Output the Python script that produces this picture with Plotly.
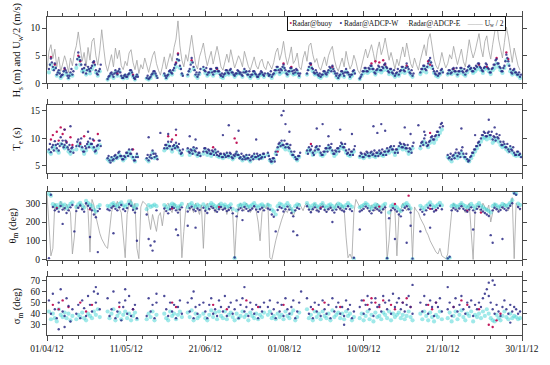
import plotly.graph_objects as go

# ---------------- data ----------------
n_days = 243  # 01/04/12 .. 30/11/12
tick_labels = ["01/04/12", "11/05/12", "21/06/12", "01/08/12", "10/09/12", "21/10/12", "30/11/12"]
radar_segments = [(1, 13), (15, 27), (31, 46), (51, 56), (60, 69), (72, 78), (80, 111),
                  (113, 129), (133, 157), (160, 187), (191, 202), (205, 242)]

# Panel 1: Hs (m) and Uw/2 (m/s)
uw_half = [2.5, 5.8, 7.0, 4.5, 6.2, 3.0, 4.8, 2.2, 3.5, 5.0,
           3.8, 2.0, 4.6, 3.2, 5.5, 6.8, 9.3, 7.0, 4.0, 5.6,
           3.0, 6.5, 4.2, 7.6, 8.2, 5.0, 3.3, 6.0, 9.7, 6.4,
           3.5, 2.2, 4.0, 5.2, 3.0, 6.4, 4.5, 6.0, 3.2, 2.5,
           4.0, 3.2, 5.5, 6.1, 3.8, 2.5, 4.2, 1.8, 3.4, 2.6,
           4.6, 3.0, 2.0, 3.5, 5.0, 5.8, 3.6, 2.4, 1.5, 3.0,
           4.8, 2.6, 3.8, 5.4, 4.0, 6.5, 8.0, 11.3, 6.8, 4.2,
           3.0, 5.2, 4.0, 6.6, 8.7, 6.0, 3.5, 2.6, 4.8, 5.9,
           7.3, 5.0, 3.2, 4.6, 5.8, 3.5, 4.9, 6.7, 5.0, 3.0,
           2.4, 4.0, 5.3, 3.8, 6.1, 4.4, 2.8, 3.9, 5.0, 4.2,
           3.0, 5.8, 4.6, 3.1, 2.4, 3.6, 4.8, 3.2, 2.6, 3.9,
           4.4, 3.0, 2.5, 4.0, 3.3, 2.6, 3.8, 5.6, 6.4, 4.2,
           5.5, 7.6, 5.0, 3.4, 4.8, 6.6, 3.6, 4.2, 5.5, 3.0,
           2.5, 4.6, 5.8, 4.0, 6.8, 7.3, 5.2, 3.8, 4.5, 3.0,
           2.4, 3.6, 4.8, 3.2, 5.0, 6.0, 6.7, 4.4, 3.0, 2.2,
           3.5, 4.6, 3.0, 5.8, 4.0, 2.6, 3.4, 5.1, 4.0, 2.4,
           1.8, 3.2, 4.8, 6.2, 4.6, 5.8, 7.0, 5.4, 3.6, 6.0,
           7.5, 5.2, 6.4, 8.2, 6.0, 4.2, 5.6, 3.8, 2.6, 4.4,
           3.2, 5.0, 6.6, 4.8, 7.3, 5.4, 3.6, 2.8, 4.6, 3.4,
           2.4, 4.2, 5.6, 7.0, 5.0, 8.0, 9.0, 6.6, 4.4, 3.2,
           2.6, 3.8, 5.6, 4.0, 2.8, 3.6, 5.2, 4.4, 6.7, 5.0,
           3.4, 4.8, 6.2, 4.0, 3.0, 5.4, 7.9, 6.0, 4.6, 5.8,
           7.2, 9.0, 6.4, 4.8, 7.6, 8.6, 6.0, 4.4, 7.0, 9.6,
           11.4, 8.0, 6.2, 4.6, 7.4, 10.2, 8.4, 5.6, 3.8, 6.4,
           4.6, 3.2, 2.4]

hs_adcp_w = [1.0, 2.6, 4.5, 3.0, 3.6, 1.6, 2.4, 1.2, 1.6, 2.8,
             2.0, 1.0, 2.0, 1.6, 2.6, 3.4, 5.6, 4.2, 2.6, 2.8,
             1.8, 3.0, 2.2, 3.2, 4.0, 2.4, 1.6, 2.6, 3.0, 2.2,
             1.2, 0.8, 1.4, 2.0, 1.2, 2.4, 1.6, 2.6, 1.4, 1.0,
             1.6, 1.2, 1.8, 2.4, 1.4, 0.8, 1.6, 0.6, 1.0, 0.8,
             1.6, 1.0, 0.8, 1.2, 1.8, 2.2, 1.4, 1.0, 0.6, 1.0,
             1.8, 1.0, 1.6, 2.4, 1.8, 2.8, 3.6, 5.2, 3.2, 1.8,
             1.2, 2.2, 1.6, 2.6, 4.6, 3.0, 1.6, 1.2, 2.0, 2.4,
             3.0, 2.2, 1.6, 2.0, 2.6, 1.6, 2.2, 2.8, 2.2, 1.4,
             1.2, 1.8, 2.4, 1.8, 2.6, 2.0, 1.4, 1.8, 2.2, 2.0,
             1.4, 2.6, 2.2, 1.6, 1.2, 1.6, 2.2, 1.6, 1.2, 1.8,
             2.0, 1.4, 1.2, 1.8, 1.6, 1.2, 1.8, 2.4, 3.0, 2.0,
             2.4, 3.4, 2.4, 1.6, 2.2, 2.8, 1.8, 2.0, 2.4, 1.4,
             1.2, 2.0, 2.6, 1.8, 3.0, 3.6, 2.6, 1.8, 2.0, 1.4,
             1.2, 1.6, 2.2, 1.6, 2.4, 2.8, 3.2, 2.2, 1.4, 1.0,
             1.6, 2.2, 1.4, 2.6, 2.0, 1.2, 1.6, 2.4, 1.8, 1.2,
             0.9, 1.6, 2.2, 2.8, 2.2, 2.6, 3.2, 2.6, 1.8, 2.6,
             3.0, 2.4, 2.8, 3.6, 2.8, 2.0, 2.6, 1.8, 1.4, 2.0,
             1.6, 2.4, 3.0, 2.2, 3.6, 2.6, 1.8, 1.4, 2.2, 1.6,
             1.2, 2.0, 2.6, 3.2, 2.4, 3.6, 4.6, 3.2, 2.2, 1.6,
             1.4, 1.8, 2.6, 2.0, 1.4, 1.8, 2.4, 2.0, 2.8, 2.2,
             1.6, 2.2, 2.8, 2.0, 1.6, 2.4, 3.2, 2.8, 2.2, 2.6,
             3.0, 3.6, 2.8, 2.2, 3.0, 3.4, 2.6, 2.0, 2.8, 3.4,
             4.4, 3.6, 2.8, 2.2, 3.2, 5.2, 4.0, 2.6, 1.8, 2.6,
             2.0, 1.6, 1.2]

# second (half-day) ADCP-W sample of Hs
hs_adcp_w2 = [1.4, 3.4, 3.8, 2.4, 2.8, 2.0, 1.8, 1.5, 2.2, 2.4,
              1.4, 1.4, 2.6, 2.2, 3.2, 4.4, 4.8, 3.4, 2.0, 3.4,
              2.4, 2.6, 2.8, 3.8, 3.4, 1.8, 2.2, 3.4, 2.6, 1.6,
              0.9, 1.2, 1.8, 1.6, 1.8, 2.0, 2.2, 2.0, 1.0, 1.4,
              1.2, 1.6, 2.4, 2.0, 1.0, 1.2, 1.2, 0.9, 1.4, 1.2,
              1.2, 1.4, 1.0, 1.6, 2.2, 1.8, 1.0, 1.4, 0.9, 1.4,
              1.4, 1.4, 2.2, 2.0, 2.4, 3.4, 4.4, 4.2, 2.6, 1.4,
              1.6, 1.8, 2.2, 3.4, 3.8, 2.4, 2.0, 1.6, 2.6, 2.0,
              2.4, 2.8, 2.0, 2.6, 2.0, 2.2, 2.8, 2.2, 1.6, 1.8,
              1.6, 2.4, 2.0, 2.4, 2.0, 1.6, 1.8, 2.4, 1.8, 1.6,
              2.0, 2.0, 1.6, 2.2, 1.6, 2.2, 1.8, 1.2, 1.6, 2.2,
              1.6, 1.8, 1.6, 1.4, 2.2, 1.6, 2.4, 3.0, 2.4, 2.6,
              3.0, 2.8, 1.8, 2.2, 2.8, 2.2, 2.4, 2.6, 1.8, 1.8,
              1.6, 2.6, 2.0, 2.4, 3.6, 2.8, 2.0, 2.4, 1.6, 1.8,
              1.6, 2.2, 1.8, 2.0, 3.0, 2.2, 2.6, 1.8, 1.8, 1.4,
              2.2, 1.8, 2.0, 2.0, 1.6, 1.6, 2.2, 1.8, 1.4, 1.6,
              1.2, 2.2, 2.8, 2.2, 2.8, 3.2, 2.6, 2.0, 2.4, 3.2,
              2.4, 3.0, 3.4, 3.0, 2.2, 2.6, 2.0, 2.4, 1.8, 2.6,
              2.2, 3.0, 2.4, 2.8, 3.0, 2.0, 2.4, 1.8, 1.6, 2.2,
              1.6, 2.6, 3.2, 2.6, 3.0, 4.2, 3.8, 2.6, 1.8, 2.2,
              1.8, 2.4, 2.0, 2.6, 1.8, 2.4, 1.8, 2.6, 2.2, 2.8,
              2.2, 2.8, 2.2, 2.6, 2.2, 3.0, 2.6, 2.2, 2.8, 3.2,
              3.6, 3.0, 2.4, 2.8, 3.6, 2.8, 2.0, 2.6, 3.4, 4.2,
              3.6, 3.0, 2.2, 2.8, 4.0, 4.6, 3.2, 2.0, 2.4, 2.0,
              1.6, 2.0, 1.6]

hs_adcp_e = [0.8, 2.0, 3.4, 2.6, 2.8, 1.4, 2.0, 1.0, 1.4, 2.2,
             1.6, 0.9, 1.6, 1.4, 2.2, 2.8, 4.4, 3.4, 2.2, 2.4,
             1.6, 2.4, 1.8, 2.6, 3.2, 2.0, 1.4, 2.2, 2.4, 1.8,
             1.0, 0.7, 1.2, 1.6, 1.0, 2.0, 1.4, 2.2, 1.2, 0.9,
             1.4, 1.0, 1.6, 2.0, 1.2, 0.7, 1.4, 0.6, 0.9, 0.7,
             1.4, 0.9, 0.7, 1.0, 1.6, 1.8, 1.2, 0.9, 0.6, 0.9,
             1.5, 0.9, 1.4, 2.0, 1.6, 2.4, 3.0, 4.2, 2.8, 1.6,
             1.0, 1.8, 1.4, 2.2, 3.8, 2.6, 1.4, 1.0, 1.7, 2.0,
             2.6, 1.9, 1.4, 1.7, 2.2, 1.4, 1.9, 2.4, 1.9, 1.2,
             1.0, 1.5, 2.0, 1.6, 2.2, 1.7, 1.2, 1.6, 1.9, 1.7,
             1.2, 2.2, 1.9, 1.4, 1.0, 1.4, 1.9, 1.4, 1.0, 1.5,
             1.7, 1.2, 1.0, 1.6, 1.4, 1.0, 1.6, 2.0, 2.6, 1.7,
             2.0, 2.8, 2.0, 1.4, 1.9, 2.4, 1.6, 1.7, 2.0, 1.2,
             1.0, 1.7, 2.2, 1.6, 2.6, 3.0, 2.2, 1.6, 1.7, 1.2,
             1.0, 1.4, 1.9, 1.4, 2.0, 2.4, 2.8, 1.9, 1.2, 0.9,
             1.4, 1.9, 1.2, 2.2, 1.7, 1.0, 1.4, 2.0, 1.6, 1.0,
             0.8, 1.4, 1.9, 2.4, 1.9, 2.2, 2.8, 2.2, 1.6, 2.2,
             2.6, 2.0, 2.4, 3.0, 2.4, 1.7, 2.2, 1.6, 1.2, 1.7,
             1.4, 2.0, 2.6, 1.9, 3.0, 2.2, 1.6, 1.2, 1.9, 1.4,
             1.0, 1.7, 2.2, 2.8, 2.0, 3.0, 3.8, 2.8, 1.9, 1.4,
             1.2, 1.6, 2.2, 1.7, 1.2, 1.6, 2.0, 1.7, 2.4, 1.9,
             1.4, 1.9, 2.4, 1.7, 1.4, 2.0, 2.8, 2.4, 1.9, 2.2,
             2.6, 3.0, 2.4, 1.9, 2.6, 2.8, 2.2, 1.7, 2.4, 2.8,
             3.6, 3.0, 2.4, 1.9, 2.8, 4.2, 3.4, 2.2, 1.6, 2.2,
             1.7, 1.4, 1.0]

hs_buoy_days = [2, 4, 9, 16, 17, 24, 36, 44, 66, 67, 74, 87, 121, 125, 135, 146, 166, 168,
                170, 172, 173, 184, 195, 196, 208, 221, 225, 230, 235, 236]
hs_buoy = [4.8, 3.4, 2.6, 5.0, 4.0, 3.8, 1.8, 1.6, 3.8, 5.4, 4.2, 2.6, 3.6, 3.0, 3.4, 3.0, 3.6, 4.0,
           3.8, 4.2, 3.4, 3.2, 4.0, 3.4, 2.6, 3.4, 3.0, 4.6, 5.6, 4.4]

# Panel 2: Te (s)
te_adcp_w = [8.5, 8.0, 7.5, 8.8, 9.5, 8.2, 7.8, 10.2, 9.6, 8.8,
             9.2, 8.0, 7.6, 8.4, 7.2, 8.6, 9.8, 9.2, 8.4, 7.6,
             8.2, 9.4, 10.0, 9.0, 8.4, 7.8, 8.8, 9.6, 8.0, 7.2,
             7.0, 6.4, 6.0, 6.6, 6.2, 7.0, 6.6, 7.6, 6.8, 6.2,
             6.6, 7.4, 8.0, 7.2, 6.6, 6.0, 7.2, 6.4, 6.8, 7.0,
             7.4, 6.4, 6.0, 7.0, 7.8, 6.6, 6.8, 7.2, 8.0, 7.6,
             8.2, 8.8, 9.4, 8.6, 8.0, 8.8, 9.2, 8.4, 7.8, 7.4,
             7.0, 7.6, 8.2, 7.4, 7.8, 8.4, 7.6, 7.0, 7.4, 7.8,
             7.6, 8.2, 7.4, 7.8, 7.2, 7.6, 8.0, 7.0, 6.8, 7.2,
             6.6, 7.0, 7.4, 6.8, 7.2, 6.4, 6.8, 7.6, 7.0, 6.6,
             6.2, 6.6, 7.0, 6.4, 6.0, 6.8, 7.2, 6.6, 6.8, 7.0,
             6.6, 7.2, 6.8, 7.4, 6.2, 5.8, 6.4, 7.6, 8.4, 9.2,
             9.6, 8.8, 8.4, 9.0, 8.2, 7.6, 7.0, 6.6, 6.2, 6.8,
             7.2, 7.6, 7.4, 7.8, 8.4, 8.0, 7.4, 7.8, 8.6, 8.0,
             7.4, 7.0, 7.6, 8.2, 8.8, 8.4, 7.8, 7.2, 7.6, 8.2,
             8.6, 9.0, 8.4, 7.8, 7.4, 7.0, 7.6, 8.0, 7.4, 7.0,
             6.8, 7.2, 6.6, 7.0, 7.4, 6.8, 7.6, 7.2, 6.8, 7.4,
             7.8, 7.4, 7.0, 7.6, 8.2, 7.8, 8.6, 8.0, 7.4, 8.0,
             8.6, 9.0, 8.4, 8.8, 8.2, 7.6, 8.0, 8.6, 8.2, 8.8,
             9.2, 8.6, 9.4, 10.0, 9.2, 8.8, 9.6, 10.4, 9.8, 10.6,
             11.2, 12.0, 12.8, 12.2, 11.0, 7.0, 6.6, 6.2, 7.0, 7.4,
             6.8, 7.2, 7.8, 7.2, 6.6, 6.2, 6.0, 6.8, 7.4, 8.0,
             8.6, 9.4, 10.0, 10.6, 11.0, 10.4, 11.2, 10.6, 9.8, 10.2,
             10.8, 10.0, 9.4, 8.8, 9.0, 8.4, 8.0, 8.6, 7.8, 7.4,
             7.0, 7.6, 7.2]

# second (half-day) ADCP-W sample of Te
te_adcp_w2 = [7.6, 9.0, 8.4, 7.8, 8.8, 9.0, 8.6, 9.0, 8.4, 9.6,
              8.4, 8.8, 8.2, 7.4, 8.0, 9.4, 8.6, 10.0, 7.6, 8.6,
              9.0, 8.4, 9.0, 9.8, 7.6, 8.6, 9.6, 8.6, 7.4, 6.8,
              6.4, 6.8, 5.6, 6.0, 6.8, 6.4, 7.4, 6.8, 6.2, 6.8,
              7.4, 6.8, 7.2, 8.0, 6.0, 6.6, 6.6, 7.0, 7.4, 6.4,
              6.8, 7.0, 6.6, 6.4, 7.2, 7.2, 6.2, 7.8, 7.4, 8.2,
              8.8, 8.2, 8.6, 9.4, 8.6, 8.2, 8.6, 9.0, 7.2, 8.0,
              7.6, 7.0, 7.6, 8.0, 7.2, 7.8, 8.2, 7.4, 6.8, 8.4,
              8.2, 7.6, 8.0, 7.2, 7.8, 7.0, 7.4, 7.6, 7.2, 6.6,
              7.2, 6.6, 6.8, 7.4, 6.6, 7.0, 7.2, 7.0, 6.4, 7.2,
              6.8, 6.2, 6.4, 7.0, 6.6, 6.2, 6.6, 7.2, 6.2, 6.4,
              7.2, 6.6, 7.4, 6.8, 5.8, 6.4, 5.8, 7.0, 9.0, 8.6,
              8.8, 9.6, 9.0, 8.4, 8.8, 7.0, 7.6, 6.2, 6.8, 7.4,
              7.8, 7.0, 8.0, 7.2, 7.8, 8.6, 7.0, 8.4, 8.0, 8.6,
              7.0, 7.6, 8.2, 7.6, 8.2, 9.0, 7.2, 7.8, 8.2, 7.6,
              9.2, 8.4, 9.0, 7.2, 8.0, 7.6, 7.0, 8.6, 6.8, 7.6,
              7.4, 6.6, 7.2, 7.6, 6.8, 7.4, 7.0, 7.8, 7.4, 6.8,
              7.2, 8.0, 7.6, 7.0, 7.6, 8.4, 8.0, 8.6, 8.0, 7.4,
              9.2, 8.4, 9.0, 8.2, 8.8, 8.2, 7.4, 9.2, 7.6, 9.4,
              8.6, 9.2, 8.8, 10.6, 8.6, 9.4, 10.2, 9.8, 10.4, 11.2,
              10.6, 12.6, 12.2, 12.8, 10.2, 6.4, 7.2, 6.8, 6.4, 8.0,
              7.4, 6.6, 8.4, 6.6, 7.2, 5.8, 6.6, 7.4, 8.0, 8.6,
              9.2, 8.8, 10.6, 11.2, 10.4, 11.0, 10.6, 11.2, 10.4, 9.6,
              10.2, 10.6, 8.8, 9.4, 8.4, 9.0, 7.6, 8.0, 8.4, 7.0,
              7.6, 7.0, 6.6]

te_adcp_e = [8.0, 7.6, 7.2, 8.2, 8.6, 7.8, 7.4, 9.0, 8.8, 8.2,
             8.4, 7.6, 7.2, 7.8, 7.0, 8.0, 8.8, 8.6, 8.0, 7.2,
             7.8, 8.6, 9.0, 8.4, 8.0, 7.4, 8.2, 8.8, 7.6, 7.0,
             6.8, 6.2, 5.8, 6.4, 6.0, 6.6, 6.4, 7.0, 6.6, 6.0,
             6.4, 7.0, 7.6, 6.8, 6.4, 5.8, 6.8, 6.2, 6.6, 6.8,
             7.0, 6.2, 5.8, 6.6, 7.4, 6.4, 6.6, 6.8, 7.6, 7.2,
             7.8, 8.2, 8.8, 8.2, 7.6, 8.4, 8.6, 8.0, 7.4, 7.0,
             6.8, 7.2, 7.8, 7.0, 7.4, 8.0, 7.2, 6.8, 7.0, 7.4,
             7.2, 7.8, 7.0, 7.4, 6.8, 7.2, 7.6, 6.8, 6.6, 6.8,
             6.4, 6.8, 7.0, 6.6, 6.8, 6.2, 6.6, 7.2, 6.8, 6.4,
             6.0, 6.4, 6.8, 6.2, 5.8, 6.4, 6.8, 6.4, 6.6, 6.8,
             6.4, 6.8, 6.6, 7.0, 6.0, 5.6, 6.2, 7.2, 8.0, 8.6,
             9.0, 8.4, 8.0, 8.6, 7.8, 7.2, 6.8, 6.4, 6.0, 6.6,
             7.0, 7.2, 7.0, 7.4, 8.0, 7.6, 7.0, 7.4, 8.2, 7.6,
             7.0, 6.8, 7.2, 7.8, 8.4, 8.0, 7.4, 6.8, 7.2, 7.8,
             8.2, 8.6, 8.0, 7.4, 7.0, 6.8, 7.2, 7.6, 7.0, 6.8,
             6.6, 6.8, 6.4, 6.8, 7.0, 6.6, 7.2, 6.8, 6.6, 7.0,
             7.4, 7.0, 6.8, 7.2, 7.8, 7.4, 8.2, 7.6, 7.0, 7.6,
             8.2, 8.6, 8.0, 8.4, 7.8, 7.2, 7.6, 8.2, 7.8, 8.4,
             8.8, 8.2, 9.0, 9.4, 8.8, 8.4, 9.2, 9.8, 9.2, 9.8,
             10.4, 11.0, 11.6, 11.2, 10.4, 6.6, 6.2, 5.8, 6.6, 7.0,
             6.4, 6.8, 7.4, 6.8, 6.4, 6.0, 5.8, 6.4, 7.0, 7.6,
             8.2, 8.8, 9.4, 10.0, 10.2, 9.8, 10.4, 10.0, 9.2, 9.6,
             10.0, 9.4, 8.8, 8.4, 8.6, 8.0, 7.6, 8.2, 7.4, 7.0,
             6.8, 7.2, 6.8]

te_w_extra_days = [9, 12, 21, 52, 58, 62, 66, 73, 76, 90, 93, 98, 107, 120, 121, 122, 124, 138,
                   141, 144, 150, 156, 167, 169, 171, 173, 183, 186, 190, 193, 212, 219, 226, 229]
te_w_extra = [11.6, 12.2, 11.2, 10.2, 11.0, 10.8, 11.6, 10.4, 9.8, 10.6, 12.4, 11.4, 9.8, 14.2,
              15.0, 12.6, 11.2, 11.8, 12.6, 10.4, 11.6, 10.8, 12.2, 11.0, 12.6, 11.4, 12.0, 10.8,
              12.4, 11.2, 11.8, 10.6, 13.4, 12.0]
te_buoy_days = [2, 3, 5, 6, 7, 8, 9, 10, 12, 13, 17, 19, 24, 26, 44, 62, 64, 66, 85, 96, 97, 118,
                135, 196]
te_buoy = [9.8, 10.6, 11.2, 9.6, 12.0, 10.8, 11.6, 9.4, 10.2, 8.8, 9.0, 10.4, 9.6, 10.8, 8.0,
           10.4, 9.8, 10.6, 8.4, 10.0, 9.2, 7.6, 9.0, 11.0]

# Panel 3: mean direction (deg)
th_adcp_w = [352, 8, 345, 280, 262, 270, 255, 285, 266, 274,
             248, 262, 278, 290, 270, 258, 276, 288, 268, 255,
             300, 286, 274, 262, 240, 225, 258, 270, 282, 266,
             275, 268, 262, 276, 284, 270, 262, 278, 290, 268,
             258, 274, 296, 286, 264, 250, 272, 266, 280, 270,
             260, 240, 110, 75, 48, 96, 262, 278, 270, 264,
             272, 258, 246, 268, 280, 274, 262, 250, 266, 278,
             270, 262, 256, 274, 282, 266, 258, 272, 264, 268,
             276, 260, 248, 270, 282, 274, 262, 254, 268, 280,
             266, 272, 258, 264, 276, 246, 12, 230, 266, 274,
             262, 280, 270, 258, 264, 272, 284, 266, 254, 268,
             276, 262, 258, 272, 266, 240, 228, 150, 264, 280,
             274, 256, 268, 282, 266, 248, 230, 262, 276, 270,
             264, 258, 272, 284, 266, 252, 268, 278, 262, 256,
             270, 282, 264, 254, 268, 276, 262, 250, 266, 280,
             272, 262, 256, 270, 284, 268, 258, 10, 352, 268,
             256, 262, 270, 282, 274, 258, 246, 262, 276, 268,
             260, 250, 268, 278, 8, 220, 262, 274, 266, 256,
             240, 230, 262, 276, 284, 268, 250, 5, 260, 272,
             282, 266, 254, 240, 262, 276, 288, 270, 256, 262,
             274, 286, 268, 250, 12, 6, 15, 262, 274, 266,
             258, 272, 284, 270, 262, 254, 266, 278, 262, 250,
             270, 282, 266, 256, 248, 240, 232, 130, 262, 276,
             268, 256, 264, 278, 270, 262, 274, 286, 300, 352,
             345, 280, 270]

th_adcp_e = [355, 350, 340, 295, 284, 290, 276, 300, 286, 292,
             272, 284, 296, 305, 290, 280, 294, 302, 288, 276,
             312, 300, 292, 284, 266, 255, 280, 290, 298, 286,
             292, 286, 282, 294, 300, 288, 282, 296, 304, 288,
             280, 292, 310, 300, 284, 272, 290, 286, 296, 290,
             282, 268, 290, 280, 286, 292, 284, 296, 290, 284,
             290, 280, 270, 288, 298, 292, 284, 274, 286, 296,
             290, 284, 278, 292, 300, 286, 280, 292, 284, 288,
             294, 282, 272, 290, 300, 292, 284, 276, 288, 298,
             286, 292, 280, 284, 294, 270, 8, 262, 286, 292,
             284, 298, 290, 280, 284, 292, 300, 286, 276, 288,
             294, 284, 280, 292, 286, 266, 256, 240, 284, 298,
             292, 278, 288, 300, 286, 270, 258, 284, 294, 290,
             284, 280, 292, 300, 286, 274, 288, 296, 284, 278,
             290, 300, 284, 276, 288, 294, 284, 272, 286, 298,
             292, 284, 278, 290, 300, 288, 280, 4, 356, 288,
             278, 284, 290, 300, 292, 280, 270, 284, 294, 288,
             282, 272, 288, 296, 6, 250, 284, 292, 286, 278,
             266, 258, 284, 294, 300, 288, 272, 3, 282, 290,
             298, 286, 276, 266, 284, 294, 304, 290, 278, 284,
             292, 302, 288, 272, 8, 4, 10, 284, 292, 286,
             280, 290, 300, 290, 284, 276, 286, 296, 284, 272,
             290, 300, 286, 278, 270, 264, 258, 250, 284, 294,
             288, 278, 284, 296, 290, 284, 292, 302, 316, 355,
             350, 298, 290]

th_w_extra_days = [8, 14, 22, 26, 34, 46, 66, 67, 72, 76, 100, 126, 128, 146, 160, 178, 184, 186,
                   191, 196, 218, 228, 233]
th_w_extra = [190, 150, 120, 40, 140, 100, 160, 130, 180, 170, 210, 150, 130, 200, 160, 110, 90,
              180, 150, 170, 160, 90, 110]
th_buoy_days = [5, 22, 64, 88, 140, 170, 178, 185, 196, 199, 215, 222]
th_buoy = [275, 268, 272, 280, 276, 282, 296, 340, 270, 264, 260, 250]

wind_dir = [350, 200, 20, 60, 300, 280, 270, 310, 285, 260,
            295, 275, 250, 30, 120, 290, 270, 300, 265, 280,
            300, 260, 40, 320, 290, 230, 180, 140, 110, 90,
            70, 60, 150, 250, 300, 280, 310, 270, 250, 120,
            10, 240, 290, 320, 270, 300, 60, 5, 280, 310,
            300, 290, 220, 160, 240, 200, 150, 230, 250, 180,
            260, 290, 300, 270, 250, 300, 280, 260, 290, 10,
            150, 270, 300, 260, 280, 250, 300, 270, 240, 290,
            60, 280, 300, 260, 270, 290, 250, 280, 300, 270,
            260, 290, 240, 280, 270, 250, 5, 200, 280, 300,
            270, 260, 300, 280, 250, 270, 290, 260, 200, 100,
            250, 290, 270, 300, 10, 0, 60, 100, 140, 180,
            210, 240, 260, 250, 290, 270, 230, 260, 280, 300,
            280, 260, 290, 300, 270, 250, 280, 300, 270, 260,
            290, 300, 270, 250, 280, 290, 260, 270, 300, 280,
            260, 290, 270, 120, 10, 30, 5, 250, 320, 300,
            280, 260, 290, 300, 270, 250, 290, 280, 260, 300,
            280, 250, 270, 290, 0, 100, 270, 290, 260, 20,
            230, 270, 300, 280, 260, 290, 270, 10, 280, 260,
            250, 220, 200, 180, 150, 130, 100, 80, 60, 40,
            30, 60, 20, 10, 5, 30, 150, 250, 300, 280,
            260, 290, 300, 270, 250, 280, 300, 150, 0, 260,
            290, 270, 250, 300, 280, 260, 290, 200, 250, 300,
            280, 260, 290, 270, 300, 280, 260, 290, 330, 5,
            300, 280, 260]

# Panel 4: directional spread (deg)
sg_adcp_w = [46, 52, 40, 58, 44, 36, 50, 62, 42, 38,
             54, 47, 33, 44, 50, 40, 48, 36, 52, 45,
             38, 56, 48, 42, 60, 50, 58, 44, 52, 40,
             48, 54, 38, 44, 60, 36, 42, 50, 34, 46,
             52, 40, 56, 38, 44, 48, 36, 54, 42, 50,
             46, 38, 54, 42, 48, 36, 50, 44, 40, 46,
             56, 44, 38, 50, 42, 48, 36, 46, 52, 40,
             44, 38, 50, 42, 54, 36, 46, 40, 48, 44,
             50, 42, 36, 48, 54, 40, 44, 38, 52, 46,
             42, 56, 38, 46, 50, 40, 44, 52, 36, 48,
             54, 42, 46, 38, 50, 44, 40, 48, 36, 46,
             42, 50, 38, 46, 52, 40, 44, 36, 50, 42,
             48, 38, 54, 44, 40, 46, 52, 36, 42, 50,
             44, 38, 48, 54, 40, 46, 36, 50, 42, 48,
             38, 52, 44, 40, 48, 36, 54, 42, 46, 50,
             40, 46, 38, 52, 44, 48, 36, 42, 50, 44,
             46, 52, 40, 48, 56, 44, 50, 38, 54, 46,
             48, 42, 56, 50, 44, 52, 40, 58, 46, 50,
             54, 44, 50, 42, 48, 56, 46, 40, 52, 48,
             44, 50, 42, 56, 48, 40, 52, 46, 38, 50,
             46, 54, 42, 48, 40, 44, 50, 38, 46, 54,
             42, 48, 56, 44, 40, 50, 46, 52, 38, 48,
             44, 50, 46, 54, 58, 62, 56, 50, 44, 40,
             48, 42, 38, 46, 52, 44, 40, 48, 42, 46,
             44, 40, 42]

sg_adcp_e = [38, 42, 35, 40, 36, 33, 44, 39, 37, 41,
             36, 40, 34, 38, 42, 35, 39, 37, 41, 36,
             34, 40, 38, 36, 42, 39, 44, 37, 40, 35,
             38, 42, 36, 40, 44, 34, 38, 41, 35, 39,
             42, 36, 40, 34, 38, 41, 35, 39, 37, 40,
             38, 35, 40, 37, 42, 34, 39, 36, 38, 41,
             40, 36, 34, 42, 38, 40, 35, 39, 42, 37,
             39, 35, 41, 37, 43, 34, 40, 36, 38, 42,
             40, 36, 34, 39, 43, 37, 41, 35, 42, 38,
             36, 42, 35, 39, 41, 37, 34, 40, 36, 38,
             42, 37, 39, 34, 41, 38, 36, 40, 35, 39,
             37, 41, 34, 39, 42, 36, 38, 35, 40, 37,
             39, 35, 42, 38, 36, 40, 43, 34, 37, 41,
             38, 35, 40, 44, 36, 39, 34, 42, 37, 40,
             35, 42, 38, 36, 40, 34, 43, 37, 39, 41,
             36, 40, 35, 42, 38, 40, 34, 37, 41, 38,
             36, 40, 34, 38, 42, 35, 39, 33, 41, 37,
             38, 35, 41, 39, 36, 42, 34, 40, 37, 39,
             41, 36, 39, 35, 38, 42, 37, 34, 40, 38,
             36, 40, 35, 42, 38, 34, 41, 37, 33, 39,
             37, 42, 35, 39, 34, 36, 41, 33, 38, 42,
             35, 39, 43, 37, 34, 40, 38, 42, 33, 39,
             37, 40, 36, 42, 38, 44, 40, 36, 34, 33,
             39, 36, 34, 38, 42, 37, 35, 40, 36, 38,
             37, 35, 36]

sg_w_extra_days = [6, 9, 25, 40, 56, 75, 101, 130, 152, 187, 205, 226, 228, 229, 237]
sg_w_extra = [26, 28, 64, 62, 58, 60, 64, 60, 30, 66, 64, 68, 70, 66, 32]
sg_buoy_days = [3, 6, 8, 11, 17, 20, 23, 37, 44, 64, 66, 85, 92, 102, 108, 121, 136, 142, 150,
                162, 164, 166, 168, 170, 172, 176, 178, 182, 184, 186, 195, 197, 199, 208, 212,
                215, 221, 226, 228, 230, 232]
sg_buoy = [48, 44, 52, 46, 50, 42, 48, 46, 44, 50, 46, 48, 44, 52, 46, 48, 44, 50, 46, 52, 48,
           54, 50, 46, 52, 48, 44, 50, 54, 46, 48, 44, 50, 46, 52, 48, 44, 30, 28, 34, 40]

# ---------------- helpers ----------------
days = list(range(n_days))
half_days = [d + 0.5 for d in days]


def in_radar(d):
    return any(a <= d <= b for a, b in radar_segments)


def masked(vals):
    return [v if in_radar(d) else None for d, v in enumerate(vals)]


C_BUOY = "#c2185b"
C_W = "#2c2a86"
C_E = "#3fd4d4"
C_WIND = "#a3a3a3"
AX = "#4a4a4a"
FONT = "Liberation Serif"

fig = go.Figure()


def add_panel(k, e_vals, w_vals, w_extra_d, w_extra_v, b_days, b_vals, wind=None, w2=None):
    xa = "x" if k == 1 else f"x{k}"
    ya = "y" if k == 1 else f"y{k}"
    if wind is not None:
        fig.add_trace(go.Scatter(x=days, y=wind, mode="lines", xaxis=xa, yaxis=ya,
                                 line=dict(color=C_WIND, width=0.8), showlegend=False))
    fig.add_trace(go.Scatter(x=days, y=masked(e_vals), mode="markers", xaxis=xa, yaxis=ya,
                             marker=dict(color=C_E, size=4.2, opacity=0.5, line=dict(width=0)),
                             showlegend=False))
    fig.add_trace(go.Scatter(x=b_days, y=b_vals, mode="markers", xaxis=xa, yaxis=ya,
                             marker=dict(color=C_BUOY, size=2.4, line=dict(width=0)),
                             showlegend=False))
    wx = days + w_extra_d
    wy = masked(w_vals) + w_extra_v
    if w2 is not None:
        wx = wx + half_days
        wy = wy + masked(w2)
    fig.add_trace(go.Scatter(x=wx, y=wy, mode="markers", xaxis=xa, yaxis=ya,
                             marker=dict(color=C_W, size=2.4, opacity=0.85, line=dict(width=0)),
                             showlegend=False))


add_panel(1, hs_adcp_e, hs_adcp_w, [], [], hs_buoy_days, hs_buoy, wind=uw_half, w2=hs_adcp_w2)
add_panel(2, te_adcp_e, te_adcp_w, te_w_extra_days, te_w_extra, te_buoy_days, te_buoy, w2=te_adcp_w2)
add_panel(3, th_adcp_e, th_adcp_w, th_w_extra_days, th_w_extra, th_buoy_days, th_buoy, wind=wind_dir)
add_panel(4, sg_adcp_e, sg_adcp_w, sg_w_extra_days, sg_w_extra, sg_buoy_days, sg_buoy)

major = [n_days * i / (len(tick_labels) - 1) for i in range(len(tick_labels))]
domains = [(0.791, 1.0), (0.511, 0.722), (0.237, 0.450), (0.0, 0.182)]
y_ranges = [[0, 12], [3.8, 16], [0, 360], [20.8, 73]]
y_ticks = [[0, 5, 10], [5, 10, 15], [0, 100, 200, 300], [30, 40, 50, 60, 70]]
y_titles = ["H<sub>s</sub> (m) and U<sub>w</sub>/2 (m/s)", "T<sub>e</sub> (s)",
            "θ<sub>m</sub> (deg)", "σ<sub>m</sub> (deg)"]

layout = dict(
    width=550, height=365,
    margin=dict(l=46, r=20, t=11, b=22),
    paper_bgcolor="white", plot_bgcolor="white",
    font=dict(family=FONT, size=10, color="#111"),
    showlegend=False,
)
for k in range(1, 5):
    xk = "xaxis" if k == 1 else f"xaxis{k}"
    yk = "yaxis" if k == 1 else f"yaxis{k}"
    layout[xk] = dict(
        domain=[0, 1], anchor="y" if k == 1 else f"y{k}",
        range=[0, n_days], tickmode="array", tickvals=major, ticktext=tick_labels,
        showticklabels=(k == 4), ticks="outside", ticklen=5, tickwidth=1, tickcolor=AX,
        showline=True, linecolor=AX, linewidth=1, mirror="ticks",
        showgrid=False, zeroline=False,
        minor=dict(tickmode="linear", tick0=0, dtick=n_days / 30, ticks="outside",
                   ticklen=3, tickwidth=1, tickcolor=AX, showgrid=False),
        tickfont=dict(size=9.4, family=FONT),
    )
    layout[yk] = dict(
        domain=list(domains[k - 1]), anchor="x" if k == 1 else f"x{k}",
        range=y_ranges[k - 1], tickmode="array", tickvals=y_ticks[k - 1],
        ticks="outside", ticklen=4, tickwidth=1, tickcolor=AX,
        showline=True, linecolor=AX, linewidth=1, mirror="ticks",
        showgrid=False, zeroline=False,
        tickfont=dict(size=9.5, family=FONT),
        title=dict(text=y_titles[k - 1], font=dict(size=10.5, family=FONT), standoff=7),
    )

legend_text = (
    f"<span style='color:{C_BUOY}'>•</span>Radar@buoy&nbsp;&nbsp;&nbsp;&nbsp;"
    f"<span style='color:{C_W}'>•</span> Radar@ADCP-W&nbsp;&nbsp;&nbsp;&nbsp;"
    f"<span style='color:{C_E}'>·</span>Radar@ADCP-E&nbsp;&nbsp;&nbsp;&nbsp;"
    f"<span style='color:{C_WIND}'>——</span> U<sub>w</sub> / 2"
)
layout["annotations"] = [dict(
    text=legend_text, xref="paper", yref="paper", x=0.735, y=0.978,
    xanchor="center", yanchor="middle", showarrow=False,
    font=dict(size=7.5, family=FONT, color="#111"),
    bordercolor="#111", borderwidth=1, borderpad=1.5, bgcolor="white",
)]

fig.update_layout(**layout)
fig.write_html("out.html", config={"displayModeBar": False},
               post_script="document.body.style.margin='0';document.body.style.overflow='hidden';")
